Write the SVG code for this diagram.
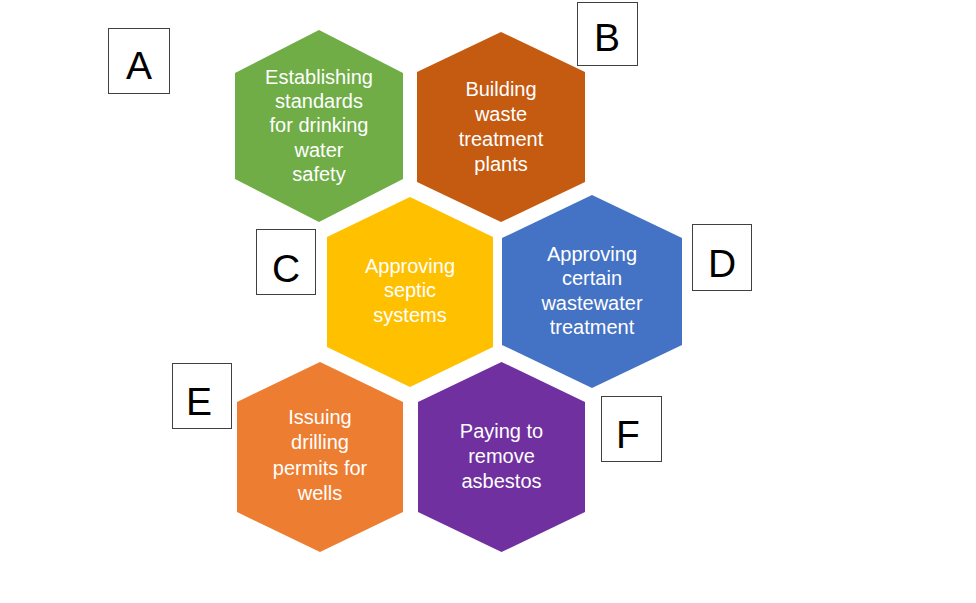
<svg xmlns="http://www.w3.org/2000/svg" width="976" height="603" viewBox="0 0 976 603">
<style>
.t{font-family:"Liberation Sans",Arial,sans-serif;font-size:20px;fill:#fff;text-anchor:middle}
.lb{fill:#fff;stroke:#404040;stroke-width:1}
.lt{font-family:"Liberation Sans",Arial,sans-serif;font-size:39px;fill:#000;text-anchor:middle}
</style>
<rect width="976" height="603" fill="#fff"/>
<g id="connectors"/>
<g id="hexA">
<polygon points="319,30 403,73 403,179 319,222 235,179 235,73" fill="#70AD47"/>
<text class="t" x="319" y="84">Establishing</text>
<text class="t" x="319" y="108">standards</text>
<text class="t" x="319" y="132">for drinking</text>
<text class="t" x="319" y="157">water</text>
<text class="t" x="319" y="181">safety</text>
</g>
<g id="hexB">
<polygon points="501,32 585,72 585,182 501,222 417,182 417,72" fill="#C55A11"/>
<text class="t" x="501" y="96">Building</text>
<text class="t" x="501" y="121">waste</text>
<text class="t" x="501" y="146">treatment</text>
<text class="t" x="501" y="171">plants</text>
</g>
<g id="hexC">
<polygon points="410,197 493,237 493,347 410,387 327,347 327,237" fill="#FFC000"/>
<text class="t" x="410" y="273">Approving</text>
<text class="t" x="410" y="297">septic</text>
<text class="t" x="410" y="322">systems</text>
</g>
<g id="hexD">
<polygon points="592,195 682,238 682,345 592,388 502,345 502,238" fill="#4472C4"/>
<text class="t" x="592" y="261">Approving</text>
<text class="t" x="592" y="285">certain</text>
<text class="t" x="592" y="310">wastewater</text>
<text class="t" x="592" y="334">treatment</text>
</g>
<g id="hexE">
<polygon points="320,362 403,402 403,512 320,552 237,512 237,402" fill="#ED7D31"/>
<text class="t" x="320" y="424">Issuing</text>
<text class="t" x="320" y="449">drilling</text>
<text class="t" x="320" y="475">permits for</text>
<text class="t" x="320" y="500">wells</text>
</g>
<g id="hexF">
<polygon points="501.5,362 585,402 585,512 501.5,552 418,512 418,402" fill="#7030A0"/>
<text class="t" x="501.5" y="438">Paying to</text>
<text class="t" x="501.5" y="463">remove</text>
<text class="t" x="501.5" y="488">asbestos</text>
</g>
<g id="labelA"><rect class="lb" x="108.5" y="28.5" width="61" height="65"/><text class="lt" x="139" y="79">A</text></g>
<g id="labelB"><rect class="lb" x="577.5" y="2.5" width="60" height="63"/><text class="lt" x="607" y="51">B</text></g>
<g id="labelC"><rect class="lb" x="256.5" y="229.5" width="59" height="65"/><text class="lt" x="286" y="282">C</text></g>
<g id="labelD"><rect class="lb" x="692.5" y="224.5" width="59" height="66"/><text class="lt" x="722" y="277">D</text></g>
<g id="labelE"><rect class="lb" x="172.5" y="363.5" width="59" height="65"/><text class="lt" x="199" y="415">E</text></g>
<g id="labelF"><rect class="lb" x="601.5" y="396.5" width="60" height="65"/><text class="lt" x="628" y="448">F</text></g>
</svg>
